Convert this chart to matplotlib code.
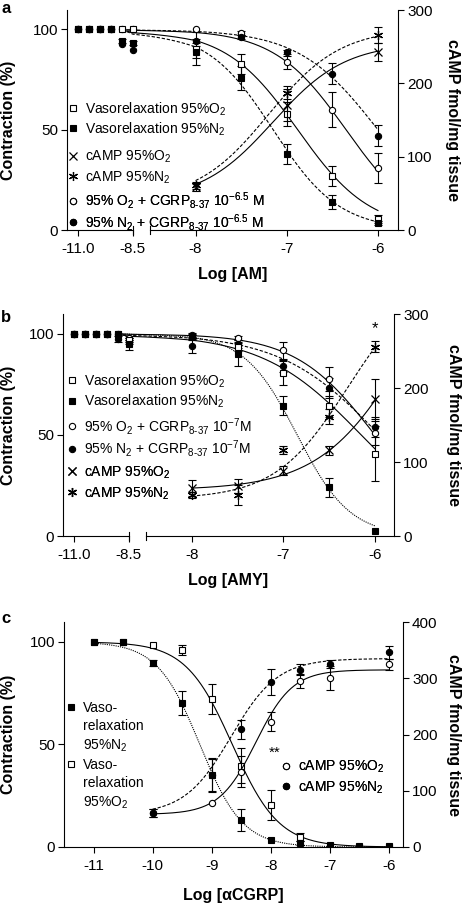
import numpy as np
import matplotlib
matplotlib.use('Agg')
import matplotlib.pyplot as plt
from matplotlib.lines import Line2D

plt.rcParams['font.family'] = ['Liberation Sans', 'DejaVu Sans']
plt.rcParams['mathtext.fontset'] = 'custom'
plt.rcParams['mathtext.rm'] = 'Liberation Sans'
plt.rcParams['mathtext.it'] = 'Liberation Sans:italic'
plt.rcParams['mathtext.bf'] = 'Liberation Sans:bold'
plt.rcParams['axes.linewidth'] = 0.8

# ---------------- data (log concentration, % contraction, cAMP fmol/mg) ----
# panel a : adrenomedullin
xa = [-11, -10.5, -10, -9.5, -9, -8.5, -8, -7.5, -7, -6.5, -6]
a_o2 = [100, 100, 100, 100, 100, 100, 90.5, 83, 58, 27, 5.5]
a_o2_err = [0, 0, 0, 0, 0, 0, 8, 5, 6, 5, 2]
a_n2 = [100, 100, 100, 100, 94, 93, 88.7, 75.6, 38, 14, 3.5]
a_n2_err = [0, 0, 0, 0, 1, 1, 3, 6, 5, 3.3, 1]
a_o2cg = [100, 100, 100, 100, 100, 100, 100, 98, 83.6, 60, 31]
a_o2cg_err = [0, 0, 0, 0, 0, 0, 0, 1, 3.3, 8.7, 7.5]
a_n2cg = [100, 100, 100, 100, 92.5, 90, 94, 96, 88.6, 78, 47]
a_n2cg_err = [0, 0, 0, 0, 0, 0, 1, 1, 1, 5.4, 5.2]
xa_camp = [-8, -7, -6]
a_camp_o2 = [58.6, 170, 243]
a_camp_o2_err = [5, 22, 12]
a_camp_n2 = [61, 187, 266]
a_camp_n2_err = [5, 9, 11]

# panel b : amylin
xb = [-11, -10.5, -10, -9.5, -9, -8.5, -8, -7.5, -7, -6.5, -6]
b_o2 = [100, 100, 100, 100, 100, 97, 98.5, 93.4, 80.5, 64, 40.6]
b_o2_err = [0, 0, 0, 0, 0, 1, 1, 2, 5.8, 5, 13.6]
b_n2 = [100, 100, 100, 100, 100, 95, 99, 90, 64.4, 24, 2.6]
b_n2_err = [0, 0, 0, 0, 0, 3, 1, 6, 4.6, 4.7, 0]
b_o2cg = [100, 100, 100, 100, 100, 98, 99.5, 98, 91.7, 77.6, 51]
b_o2cg_err = [0, 0, 0, 0, 0, 1, 1, 1, 4, 6, 6]
b_n2cg = [100, 100, 100, 100, 97.5, 96, 93.7, 95, 84, 73, 53.8]
b_n2cg_err = [0, 0, 0, 0, 1.5, 1, 3.3, 2, 3, 5, 5]
xb_camp = [-8, -7.5, -7, -6.5, -6]
b_camp_o2 = [64.4, 67.6, 88, 116, 185]
b_camp_o2_err = [11, 10, 6, 6, 27]
b_camp_n2 = [55.4, 55.4, 116, 161, 256]
b_camp_n2_err = [4, 13, 5, 10, 8]

# panel c : alpha-CGRP
xc = [-11, -10.5, -10, -9.5, -9, -8.5, -8, -7.5, -7, -6.5, -6]
c_n2 = [100, 100, 89.6, 70.4, 35.1, 13.2, 3.4, 2.1, 1, 0.5, 0.5]
c_n2_err = [0, 0, 1.5, 5.8, 8, 5.2, 0, 1, 0, 0, 0]
c_o2 = [100, 100, 98.5, 96, 72, 39.7, 20.5, 5, 0, 0, 0]
c_o2_err = [0, 0, 0, 2.4, 7.3, 8.5, 7.5, 2, 0, 0, 0]
xc_camp = [-10, -9, -8.5, -8, -7.5, -7, -6]
c_camp_o2 = [61, 79, 134, 223, 295, 300, 325]
c_camp_o2_err = [7, 0, 28, 17, 12, 21, 10]
c_camp_n2 = [61, 128, 209, 293, 315, 325, 346]
c_camp_n2_err = [7, 30, 17, 23, 10, 7, 12]

# fitted curves: (value at low conc, value at high conc, logEC50, slope)
fit_a = {'o2': (100, 0, -6.88, 1.1), 'n2': (100, 0, -7.15, 1.2),
         'o2cg': (100, 0, -6.35, 1.1), 'n2cg': (100, 0, -6.0, 1.0),
         'camp_o2': (40, 255, -7.15, 1.1), 'camp_n2': (40, 275, -7.2, 1.1)}
fit_b = {'o2': (100, 0, -6.15, 0.8), 'n2': (100, 0, -6.85, 1.5),
         'o2cg': (100, 0, -6.0, 1.0), 'n2cg': (100, 0, -5.95, 0.8),
         'camp_o2': (62, 460, -5.6, 0.9), 'camp_n2': (50, 350, -6.3, 1.1)}
fit_c = {'o2': (100, 0, -8.65, 1.1), 'n2': (100, 0, -9.2, 1.2),
         'camp_o2': (58, 315, -8.25, 1.4), 'camp_n2': (58, 335, -8.67, 1.1)}


def logistic(x, p):
    start, end, ec50, slope = p
    return start + (end - start) / (1 + 10 ** ((ec50 - x) * slope))


# broken x axis for a and b: left part squeezed, gap between -8.5 and -8
BRK_L0 = -8.69
BRK_K = 0.24


def brk_fwd(v):
    v = np.asarray(v, dtype=float)
    return np.where(v <= -8.5, BRK_L0 + (v + 8.5) * BRK_K,
                    np.where(v < -8, BRK_L0 + (v + 8.5) * (-8 - BRK_L0) / 0.5, v))


def brk_inv(u):
    u = np.asarray(u, dtype=float)
    return np.where(u <= BRK_L0, -8.5 + (u - BRK_L0) / BRK_K,
                    np.where(u < -8, -8.5 + (u - BRK_L0) * 0.5 / (-8 - BRK_L0), u))


# marker styles
open_sq = dict(marker='s', ms=5, mfc='white', mec='k', mew=0.8, color='k')
fill_sq = dict(marker='s', ms=5, mfc='k', mec='k', mew=0.8, color='k')
open_ci = dict(marker='o', ms=4.5, mfc='white', mec='k', mew=0.8, color='k')
fill_ci = dict(marker='o', ms=4.5, mfc='k', mec='k', mew=0.8, color='k')
cross = dict(marker='x', ms=5.5, mec='k', mew=0.9, color='k')
aster = dict(marker=(6, 2, 0), ms=6.5, mec='k', mew=0.9, color='k')

DASH = (0, (3, 1.6))
DOT = (0, (1, 1))


def points(ax, x, y, err, mk):
    x, y, err = np.asarray(x, float), np.asarray(y, float), np.asarray(err, float)
    has = err > 0
    ax.errorbar(x[has], y[has], yerr=err[has], fmt='none', ecolor='k',
                elinewidth=0.8, capsize=3, capthick=0.8, zorder=3)
    ax.plot(x, y, ls='none', zorder=4, **mk)


def curve(ax, x0, x1, p, ls):
    xs = np.linspace(x0, x1, 300)
    ax.plot(xs, logistic(xs, p), color='k', lw=0.8, ls=ls, zorder=2)


def handle(mk):
    return Line2D([], [], ls='none', **mk)


def legend(ax, hs, labels, x, y, spacing=0.32):
    leg = ax.legend(hs, labels, loc='center left', bbox_to_anchor=(x, y),
                    frameon=False, borderpad=0, borderaxespad=0, fontsize=10,
                    handlelength=0.7, handletextpad=0.5, labelspacing=spacing)
    ax.add_artist(leg)


def style(ax, ax2, xlabel, xlpos, ylx, y2x, ymax2):
    ax.spines['top'].set_visible(False)
    ax2.spines['top'].set_visible(False)
    ax.spines['right'].set_visible(False)
    ax2.spines['left'].set_visible(False)
    ax2.spines['bottom'].set_visible(False)
    ax.tick_params(direction='out', length=4.5, width=0.8, labelsize=11, pad=2)
    ax.tick_params(axis='x', pad=4)
    ax2.tick_params(direction='out', length=4.5, width=0.8, labelsize=11, pad=2)
    ax.set_ylim(0, 109.7)
    ax.set_yticks([0, 50, 100])
    ax2.set_ylim(0, ymax2)
    ax2.set_yticks(np.arange(0, ymax2 + 1, 100))
    ax.set_ylabel('Contraction (%)', fontsize=11.5, weight='bold')
    ax.yaxis.set_label_coords(ylx, 0.5)
    ax2.set_ylabel('cAMP fmol/mg tissue', fontsize=11.5, weight='bold', rotation=270, va='center')
    ax2.yaxis.set_label_coords(y2x, 0.5)
    ax.set_xlabel(xlabel, fontsize=11.5, weight='bold')
    ax.xaxis.set_label_coords(0.5, xlpos)


def broken_axis(ax, xmin, xmax):
    ax.set_xscale('function', functions=(brk_fwd, brk_inv))
    ax.set_xlim(xmin, xmax)
    ax.set_xticks([-11, -8.5, -8, -7, -6])
    ax.set_xticklabels(['-11.0', '-8.5', '-8', '-7', '-6'])
    ax.spines['bottom'].set_visible(False)
    tr = ax.get_xaxis_transform()
    start2 = float(brk_inv(-8.5))
    ax.plot([xmin, -8.5], [0, 0], color='k', lw=0.8, transform=tr, clip_on=False)
    ax.plot([start2, xmax], [0, 0], color='k', lw=0.8, transform=tr, clip_on=False)
    for xb_ in [-8.5, start2]:
        ax.plot([xb_, xb_], [-0.02, 0.02], color='k', lw=0.8, transform=tr, clip_on=False)
    ax.set_xlim(xmin, xmax)


fig = plt.figure(figsize=(4.66, 9.06), dpi=100)

# ---------------- panel a ----------------
ax = fig.add_axes([67 / 466, 1 - 230 / 906, 331 / 466, 220 / 906])
ax.set_xscale('function', functions=(brk_fwd, brk_inv))
ax2 = ax.twinx()
curve(ax, -9, -6, fit_a['o2'], '-')
curve(ax, -9, -6, fit_a['n2'], DASH)
curve(ax, -9, -6, fit_a['o2cg'], '-')
curve(ax, -9, -6, fit_a['n2cg'], DASH)
points(ax, xa, a_o2cg, a_o2cg_err, open_ci)
points(ax, xa, a_n2cg, a_n2cg_err, fill_ci)
points(ax, xa, a_o2, a_o2_err, open_sq)
points(ax, xa, a_n2, a_n2_err, fill_sq)
curve(ax2, -8, -6, fit_a['camp_o2'], '-')
curve(ax2, -8, -6, fit_a['camp_n2'], DASH)
points(ax2, xa_camp, a_camp_o2, a_camp_o2_err, cross)
points(ax2, xa_camp, a_camp_n2, a_camp_n2_err, aster)
broken_axis(ax, -11.5, -5.78)
style(ax, ax2, 'Log [AM]', -0.168, -0.154, 1.166, 300)
legend(ax, [handle(open_sq), handle(fill_sq)],
       ['Vasorelaxation 95%O$_2$', 'Vasorelaxation 95%N$_2$'], 0.003, 0.505, spacing=0.2)
legend(ax, [handle(cross), handle(aster)],
       ['cAMP 95%O$_2$', 'cAMP 95%N$_2$'], 0.003, 0.286)
legend(ax, [handle(open_ci), handle(fill_ci)],
       ['95% O$_2$ + CGRP$_{8\\text{-}37}$ 10$^{-6.5}$ M',
        '95% N$_2$ + CGRP$_{8\\text{-}37}$ 10$^{-6.5}$ M'], 0.003, 0.085, spacing=0.05)
fig.text(1 / 466, 1 - 13 / 906, 'a', fontsize=12, weight='bold', va='baseline')

# ---------------- panel b ----------------
ax = fig.add_axes([63 / 466, 1 - 536 / 906, 331 / 466, 222 / 906])
ax.set_xscale('function', functions=(brk_fwd, brk_inv))
ax2 = ax.twinx()
curve(ax, -9, -6, fit_b['o2'], '-')
curve(ax, -9, -6, fit_b['n2'], DOT)
curve(ax, -9, -6, fit_b['o2cg'], '-')
curve(ax, -9, -6, fit_b['n2cg'], DASH)
points(ax, xb, b_o2cg, b_o2cg_err, open_ci)
points(ax, xb, b_n2cg, b_n2cg_err, fill_ci)
points(ax, xb, b_o2, b_o2_err, open_sq)
points(ax, xb, b_n2, b_n2_err, fill_sq)
curve(ax2, -8, -6, fit_b['camp_o2'], '-')
curve(ax2, -8, -6, fit_b['camp_n2'], DASH)
points(ax2, xb_camp, b_camp_o2, b_camp_o2_err, cross)
points(ax2, xb_camp, b_camp_n2, b_camp_n2_err, aster)
ax2.text(-6, 280, '*', fontsize=12, ha='center', va='center')
broken_axis(ax, -11.5, -5.79)
style(ax, ax2, 'Log [AMY]', -0.167, -0.142, 1.181, 300)
legend(ax, [handle(open_sq), handle(fill_sq)],
       ['Vasorelaxation 95%O$_2$', 'Vasorelaxation 95%N$_2$'], 0.012, 0.653, spacing=0.22)
legend(ax, [handle(open_ci), handle(fill_ci)],
       ['95% O$_2$ + CGRP$_{8\\text{-}37}$ 10$^{-7}$M',
        '95% N$_2$ + CGRP$_{8\\text{-}37}$ 10$^{-7}$M'], 0.012, 0.444, spacing=0.12)
legend(ax, [handle(cross), handle(aster)],
       ['cAMP 95%O$_2$', 'cAMP 95%N$_2$'], 0.012, 0.239)
fig.text(1 / 466, 1 - 322 / 906, 'b', fontsize=12, weight='bold', va='baseline')

# ---------------- panel c ----------------
ax = fig.add_axes([64 / 466, 1 - 847 / 906, 339 / 466, 225 / 906])
ax2 = ax.twinx()
curve(ax, -11, -6, fit_c['o2'], '-')
curve(ax, -11, -6, fit_c['n2'], DOT)
points(ax, xc, c_o2, c_o2_err, open_sq)
points(ax, xc, c_n2, c_n2_err, fill_sq)
curve(ax2, -10, -6, fit_c['camp_o2'], '-')
curve(ax2, -10, -6, fit_c['camp_n2'], DASH)
points(ax2, xc_camp, c_camp_o2, c_camp_o2_err, open_ci)
points(ax2, xc_camp, c_camp_n2, c_camp_n2_err, fill_ci)
ax.text(-7.93, 46, '**', fontsize=11, ha='center', va='center')
ax.set_xlim(-11.5, -5.76)
ax.set_xticks([-11, -10, -9, -8, -7, -6])
ax.set_xticklabels(['-11', '-10', '-9', '-8', '-7', '-6'])
style(ax, ax2, 'Log [αCGRP]', -0.182, -0.142, 1.150, 400)
blank = Line2D([], [], ls='none')
legend(ax, [handle(fill_sq), blank, blank, handle(open_sq), blank, blank],
       ['Vaso-', 'relaxation', '95%N$_2$', 'Vaso-', 'relaxation', '95%O$_2$'],
       0.006, 0.405, spacing=0.3)
legend(ax, [handle(open_ci), handle(fill_ci)],
       ['cAMP 95%O$_2$', 'cAMP 95%N$_2$'], 0.640, 0.311)
fig.text(1 / 466, 1 - 623 / 906, 'c', fontsize=12, weight='bold', va='baseline')

fig.savefig('out.png', dpi=100)
